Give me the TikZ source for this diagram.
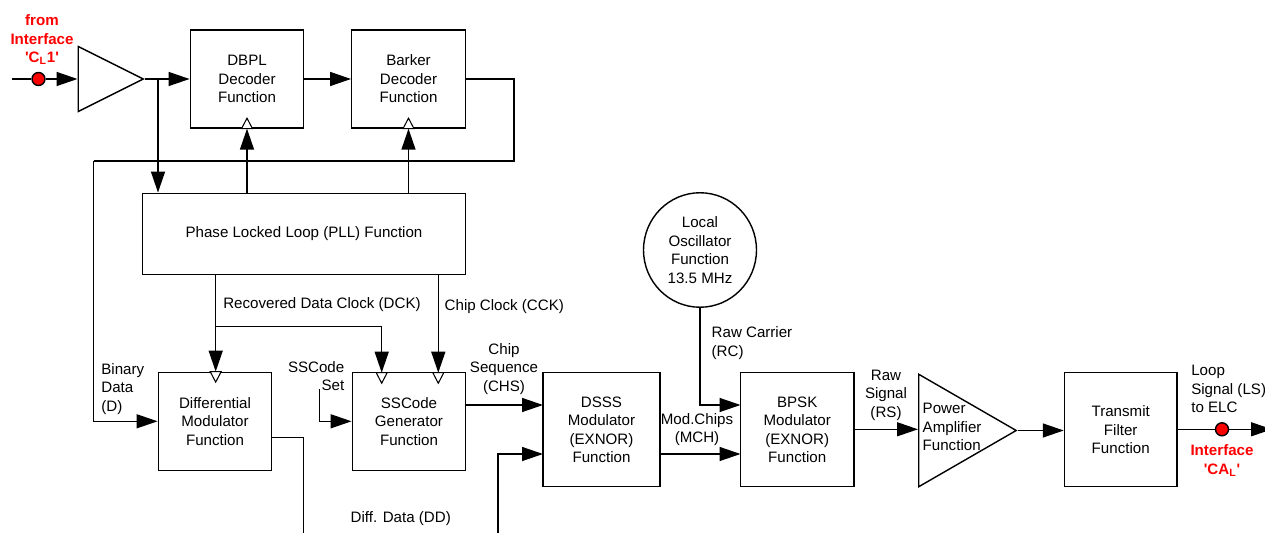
\documentclass[tikz,border=0pt]{standalone}
\usepackage{fontspec}
\setmainfont{Liberation Sans}
\usetikzlibrary{arrows.meta,shapes.geometric}

\newcommand{\qs}{\textquotesingle}

\begin{document}
\begin{tikzpicture}[x=0.02cm,y=-0.02cm,line width=0.8pt,
    >={Triangle[length=0.42cm,width=0.28cm]},
    every node/.style={font=\fontsize{8.6}{10.5}\selectfont,align=center,inner sep=0pt},
    block/.style={draw,rectangle,minimum width=2.27cm},
    tallblock/.style={block,minimum height=1.96cm},
    modblock/.style={draw,rectangle,minimum height=2.28cm},
    amp/.style={draw,isosceles triangle,isosceles triangle stretches,anchor=lower side},
    probe/.style={draw,circle,fill=red,minimum size=0.26cm},
    redtext/.style={text=red,font=\fontsize{8.6}{10.5}\selectfont\bfseries},
    lefttext/.style={align=left,anchor=west}]
  \useasboundingbox (0,0) rectangle (1265,533);

  % upper row
  \coordinate (inpt) at (12,79);
  \node[probe] (pin) at (38.5,79) {};
  \node[amp,minimum width=1.3cm,minimum height=1.3cm] (pre) at (77.5,79) {};
  \node[tallblock] (dbpl) at (247,79) {DBPL\\Decoder\\Function};
  \node[tallblock] (barker) at (408.5,79) {Barker\\Decoder\\Function};
  \node[draw,minimum width=6.47cm,minimum height=1.63cm] (pll) at (304,234) {Phase Locked Loop (PLL) Function};

  % lower row
  \node[tallblock] (dm) at (215,421.3) {Differential\\Modulator\\Function};
  \node[tallblock] (sg) at (409,421.3) {SSCode\\Generator\\Function};
  \node[modblock,minimum width=2.34cm] (dsss) at (601.5,429.7) {DSSS\\Modulator\\(EXNOR)\\Function};
  \node[modblock,minimum width=2.27cm] (bpsk) at (797.2,429.7) {BPSK\\Modulator\\(EXNOR)\\Function};
  \node[amp,minimum width=2.25cm,minimum height=1.95cm] (pa) at (918,430.5) {};
  \node[modblock,minimum width=2.25cm] (tx) at (1120.7,429.7) {Transmit\\Filter\\Function};
  \node[draw,ellipse,minimum width=2.26cm,minimum height=2.29cm] (lo) at (700,250) {Local\\Oscillator\\Function\\13.5 MHz};
  \node[probe] (pout) at (1222,429.3) {};

  % free ends and junctions
  \coordinate (tap) at (158,79);
  \coordinate (fb1) at (514,161);
  \coordinate (fb2) at (93.6,161);
  \coordinate (dckj) at (215.7,326.7);
  \coordinate (sgclk1) at (381.7,372.7);
  \coordinate (sgclk2) at (438.3,372.7);
  \coordinate (setin) at (319.3,389.3);
  \coordinate (chsin) at (543,405);
  \coordinate (ddout) at (271.3,437.7);
  \coordinate (ddfoot1) at (303.7,540);
  \coordinate (ddfoot2) at (498,540);
  \coordinate (ddin) at (543,454);
  \coordinate (mchin) at (740.5,454);
  \coordinate (rcin) at (740.5,405);
  \coordinate (rsin) at (918,429.3);
  \coordinate (outpt) at (1272,429.3);

  \path[->]
    (pin) edge (pre.lower side)
    (pre.apex) edge (dbpl.west)
    (dbpl.east) edge (barker.west)
    (tap) edge (tap |- pll.north)
    (pll.north -| dbpl.south) edge (dbpl.south)
    (pll.north -| barker.south) edge (barker.south)
    (pll.south -| dckj) edge (dckj |- dm.north)
    (pll.south -| sgclk2) edge (sgclk2)
    (chsin -| sg.east) edge (chsin)
    (mchin -| dsss.east) edge (mchin)
    (rsin -| bpsk.east) edge (rsin)
    (pa.apex) edge (pa.apex -| tx.west)
    (pout) edge (outpt);

  \draw (inpt) -- (pin);
  \draw (tx.east |- pout) -- (pout);
  \draw (barker.east) -| (fb1) -- (fb2);
  \draw[->] (fb2) |- (dm.west);
  \draw[->] (dckj) -| (sgclk1);
  \draw[->] (setin) |- (sg.west);
  \draw (ddout) -| (ddfoot1);
  \draw[->] (ddfoot2) |- (ddin);
  \draw[->] (lo.south) |- (rcin);

  % clock marks
  \foreach \c in {dbpl.south,barker.south}
    \draw[line width=0.6pt,fill=white] (\c) +(-5.5,0) -- +(0,-10.5) -- +(5.5,0) -- cycle;
  \foreach \c in {dckj |- dm.north,sgclk1,sgclk2}
    \draw[line width=0.6pt,fill=white] (\c) +(-5.5,0) -- +(0,10.5) -- +(5.5,0) -- cycle;

  % signal labels
  \node[redtext] (tfrom) at (42,39.5) {from\\Interface\\\qs C\textsubscript{L}1\qs};
  \node (tdck) at (322,305) {Recovered Data Clock (DCK)};
  \node[lefttext] (tcck) at (444,306.7) {Chip Clock (CCK)};
  \node[lefttext] (tbin) at (100.7,389) {Binary\\Data\\(D)};
  \node[align=right,anchor=east] (tset) at (345,376) {SSCode\\Set};
  \node (tchs) at (504,369) {Chip\\Sequence\\(CHS)};
  \node (tdd) at (400.7,518.7) {Diff. Data (DD)};
  \node[lefttext] (trc) at (711,343) {Raw Carrier\\(RC)};
  \node (tmch) at (697,429.5) {Mod.Chips\\(MCH)};
  \node (trs) at (886,395) {Raw\\Signal\\(RS)};
  \node[lefttext] (tpa) at (922,427) {Power\\Amplifier\\Function};
  \node[lefttext] (tls) at (1190.6,389) {Loop\\Signal (LS)\\to ELC};
  \node[redtext] (tca) at (1222,460.5) {Interface\\\qs CA\textsubscript{L}\qs};
\end{tikzpicture}
\end{document}
